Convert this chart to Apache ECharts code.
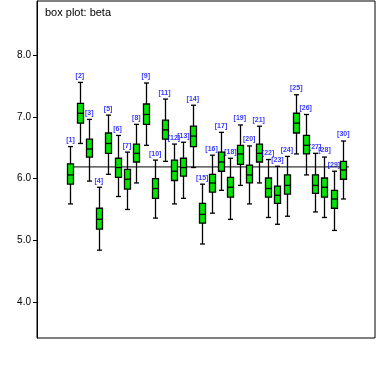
<!DOCTYPE html>
<html>
<head>
<meta charset="utf-8">
<script src="https://cdn.jsdelivr.net/npm/echarts@6/dist/echarts.min.js"></script>
<style>
  html, body { margin: 0; padding: 0; background: #fff; }
  #chart { width: 377px; height: 377px; }
</style>
</head>
<body>
<div id="chart"></div>
<script>
// one entry per group [1]..[30]
const groups = [1, 2, 3, 4, 5, 6, 7, 8, 9, 10, 11, 12, 13, 14, 15, 16, 17, 18, 19, 20, 21, 22, 23, 24, 25, 26, 27, 28, 29, 30];
const whiskerLow = [5.59, 6.57, 5.96, 4.84, 6.07, 5.71, 5.50, 5.93, 6.54, 5.36, 6.28, 5.59, 5.68, 6.18, 4.94, 5.44, 5.81, 5.34, 5.89, 5.59, 5.93, 5.37, 5.26, 5.39, 6.40, 6.06, 5.46, 5.37, 5.16, 5.67];
const q1 = [5.91, 6.90, 6.35, 5.18, 6.41, 6.02, 5.83, 6.27, 6.88, 5.68, 6.64, 5.97, 6.04, 6.52, 5.28, 5.78, 6.12, 5.70, 6.23, 5.93, 6.27, 5.70, 5.60, 5.75, 6.74, 6.40, 5.76, 5.70, 5.52, 5.99];
const median = [6.06, 7.06, 6.48, 5.34, 6.57, 6.18, 5.99, 6.41, 7.04, 5.84, 6.79, 6.12, 6.18, 6.69, 5.42, 5.93, 6.27, 5.86, 6.40, 6.06, 6.41, 5.84, 5.73, 5.89, 6.90, 6.54, 5.89, 5.86, 5.67, 6.14];
const q3 = [6.24, 7.22, 6.64, 5.52, 6.74, 6.33, 6.15, 6.56, 7.21, 6.00, 6.95, 6.30, 6.33, 6.85, 5.60, 6.07, 6.43, 6.02, 6.54, 6.22, 6.56, 6.01, 5.88, 6.06, 7.06, 6.70, 6.06, 6.01, 5.81, 6.28];
const whiskerHigh = [6.52, 7.56, 6.96, 5.86, 7.03, 6.70, 6.43, 6.88, 7.55, 6.30, 7.29, 6.56, 6.59, 7.19, 5.91, 6.38, 6.75, 6.33, 6.87, 6.53, 6.85, 6.31, 6.20, 6.36, 7.36, 7.04, 6.41, 6.35, 6.12, 6.61];
const overallMean = 6.19;
const yTicks = [4, 5, 6, 7, 8];

const chart = echarts.init(document.getElementById('chart'));

const boxData = groups.map((g, i) => [g, whiskerLow[i], q1[i], median[i], q3[i], whiskerHigh[i]]);
const labelData = groups.map((g, i) => [g, whiskerHigh[i]]);

const halfW = 3;

function renderBox(params, api) {
  const x = api.value(0);
  const lo = api.coord([x, api.value(1)]);
  const b1 = api.coord([x, api.value(2)]);
  const md = api.coord([x, api.value(3)]);
  const b3 = api.coord([x, api.value(4)]);
  const hi = api.coord([x, api.value(5)]);
  const cx = Math.round(lo[0]) + 0.5;
  const stroke = { stroke: '#000', lineWidth: 1.3 };
  return {
    type: 'group',
    children: [
      { type: 'line', shape: { x1: cx, y1: hi[1], x2: cx, y2: lo[1] }, style: stroke },
      { type: 'line', shape: { x1: cx - halfW + 0.5, y1: hi[1], x2: cx + halfW - 0.5, y2: hi[1] }, style: stroke },
      { type: 'line', shape: { x1: cx - halfW + 0.5, y1: lo[1], x2: cx + halfW - 0.5, y2: lo[1] }, style: stroke },
      {
        type: 'rect',
        shape: { x: cx - halfW, y: b3[1], width: halfW * 2, height: b1[1] - b3[1] },
        style: { fill: '#00e600', stroke: '#000', lineWidth: 1.3 }
      },
      { type: 'line', shape: { x1: cx - halfW, y1: md[1], x2: cx + halfW, y2: md[1] }, style: stroke }
    ]
  };
}

const option = {
  backgroundColor: '#fff',
  animation: false,
  title: {
    text: 'box plot: beta',
    left: 40,
    top: 2,
    textStyle: {
      fontFamily: 'Liberation Sans',
      fontSize: 11,
      fontWeight: 'normal',
      color: '#000'
    }
  },
  grid: {
    left: 37,
    right: 2,
    top: 1,
    bottom: 39,
    show: true,
    borderColor: '#000',
    borderWidth: 1
  },
  xAxis: {
    type: 'value',
    min: -2.56,
    max: 33.37,
    axisLine: { show: false },
    axisTick: { show: false },
    axisLabel: { show: false },
    splitLine: { show: false }
  },
  yAxis: {
    type: 'value',
    min: 3.416,
    max: 8.88,
    axisLine: { show: true, onZero: false, lineStyle: { color: '#000', width: 1 } },
    axisTick: {
      show: true,
      length: 4,
      customValues: yTicks,
      lineStyle: { color: '#000' }
    },
    axisLabel: {
      customValues: yTicks,
      margin: 6,
      fontFamily: 'Liberation Sans',
      fontSize: 10,
      color: '#000',
      formatter: v => v.toFixed(1)
    },
    splitLine: { show: false }
  },
  series: [
    {
      type: 'line',
      data: [[groups[0] - 0.35, overallMean], [groups[groups.length - 1] + 0.6, overallMean]],
      symbol: 'none',
      lineStyle: { color: '#000', width: 1 },
      silent: true,
      z: 1
    },
    {
      type: 'custom',
      renderItem: renderBox,
      data: boxData,
      z: 2
    },
    {
      type: 'scatter',
      data: labelData,
      symbolSize: 0,
      label: {
        show: true,
        position: 'top',
        distance: 3,
        formatter: p => '[' + p.value[0] + ']',
        fontFamily: 'Liberation Sans',
        fontSize: 7,
        fontWeight: 'bold',
        color: '#0000ff'
      },
      z: 3
    }
  ]
};

chart.setOption(option);
</script>
</body>
</html>
